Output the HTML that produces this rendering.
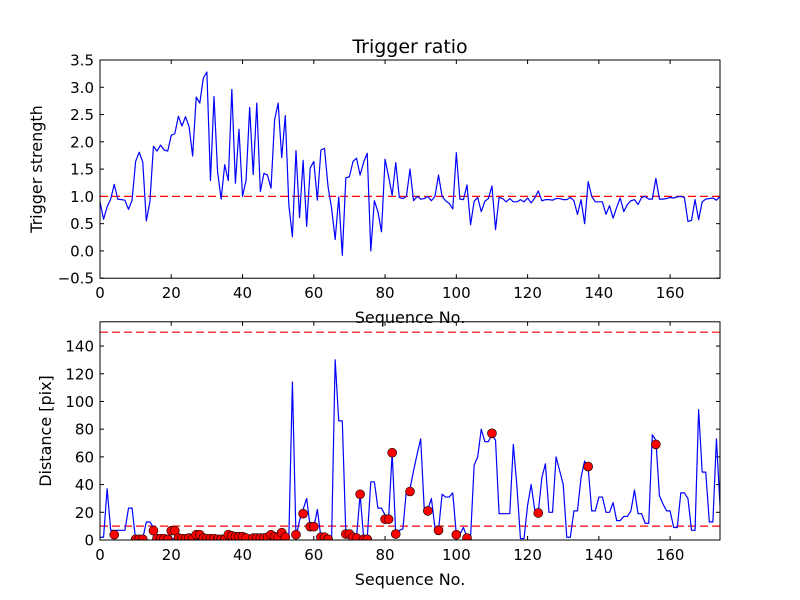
<!DOCTYPE html>
<html><head><meta charset="utf-8"><style>
body{margin:0;background:#fff}
svg{display:block}
text{font-family:"DejaVu Sans","Liberation Sans",sans-serif;fill:#000}
</style></head><body>
<svg id="fig" width="800" height="600" viewBox="0 0 800 600" xmlns="http://www.w3.org/2000/svg">
<rect width="800" height="600" fill="#fff"/>
</svg>
<script>
const xTicks=[0,20,40,60,80,100,120,140,160];
const topYTicks=[-0.5,0,0.5,1,1.5,2,2.5,3,3.5];
const topYLabels=["\u22120.5","0.0","0.5","1.0","1.5","2.0","2.5","3.0","3.5"];
const botYTicks=[0,20,40,60,80,100,120,140];
const triggerRatio=[0.9,0.58,0.81,0.95,1.22,0.95,0.94,0.93,0.76,0.93,1.64,1.81,1.63,0.55,0.9,1.92,1.83,1.94,1.85,1.83,2.12,2.15,2.47,2.29,2.46,2.28,1.74,2.82,2.71,3.17,3.28,1.29,2.83,1.45,0.95,1.58,1.29,2.96,1.24,2.23,1.0,1.3,2.63,1.4,2.71,1.09,1.42,1.39,1.15,2.4,2.71,1.71,2.48,0.84,0.26,1.84,0.61,1.66,0.45,1.52,1.64,0.93,1.85,1.88,1.18,0.78,0.21,0.99,-0.08,1.34,1.36,1.64,1.7,1.39,1.63,1.79,0.0,0.92,0.72,0.35,1.68,1.36,1.02,1.62,0.98,0.96,1.0,1.5,0.92,1.0,0.95,0.96,1.0,0.92,1.0,1.39,1.0,0.92,0.87,0.77,1.8,0.95,0.94,1.21,0.48,0.91,0.98,0.72,0.91,0.96,1.19,0.39,0.98,0.96,0.9,0.96,0.9,0.9,0.94,0.9,0.97,0.88,0.97,1.1,0.92,0.94,0.94,0.93,0.96,0.96,0.94,0.94,0.98,0.92,0.67,0.94,0.5,1.27,1.0,0.9,0.9,0.9,0.67,0.83,0.6,0.8,0.97,0.72,0.85,0.92,0.94,0.85,0.98,1.0,0.95,0.95,1.33,0.95,0.95,0.96,0.98,0.97,0.99,1.0,0.98,0.54,0.56,0.94,0.57,0.9,0.95,0.96,0.97,0.93,1.0];
const distance=[2,2,37,7,7,7,7,7,23,23,0,1,1,13,13,9,1,1,1,0,1,1,2,1,1,2,1,1,1,1,0,0,1,1,2,2,2,1,1,1,1,1,1,2,2,2,3,1,1,3,1,1,2,2,114,2,14,22,30,9,9,22,2,1,1,1,130,86,86,4,3,2,2,33,1,1,42,42,23,23,18,16,63,4,7,8,36,37,50,62,73,22,22,30,9,7,33,31,31,34,4,4,9,2,2,54,60,80,71,71,76,72,19,19,19,19,69,39,1,1,25,40,22,20,45,55,20,20,60,50,40,2,2,21,21,45,57,52,21,21,31,31,20,20,27,14,14,17,17,21,36,19,19,12,12,76,72,32,26,21,21,9,9,34,34,30,7,7,94,49,49,13,13,73,25];
const markerIdx=[4,10,11,12,15,16,17,18,19,20,21,22,23,24,25,26,27,28,29,30,31,32,33,34,35,36,37,38,39,40,41,43,44,45,46,47,48,49,50,51,52,55,57,59,60,62,63,64,69,70,71,72,73,74,75,80,81,82,83,87,92,95,100,103,110,123,137,156];
const markerVal=[3.8,0.5,0.5,0.5,6.7,1,1,1,0.5,6.7,6.7,1.4,1,1,1.4,1,3.8,3.8,1.4,1,1,1,0.5,0.5,0.5,3.8,3,2.4,2.4,2.4,1.4,1.4,1.4,1.4,1.4,2,3.8,2.4,2,5.3,2,3.8,19,9.6,9.6,2,2,0.5,4.3,4.3,2,1.4,33,0.5,0.5,15,15,63,4.3,35,21,7,3.8,1.4,77,19.5,53,69];

const NS="http://www.w3.org/2000/svg";
const fig=document.getElementById('fig');
function mk(tag,attrs,parent){const e=document.createElementNS(NS,tag);for(const k in attrs)e.setAttribute(k,attrs[k]);(parent||fig).appendChild(e);return e;}
const L=100,R=720,XMAX=174;
const sx=v=>L+(v/XMAX)*(R-L);
const A1={t:60,b:278.2,min:-0.5,max:3.5};
const A2={t:321.8,b:540,min:0,max:157.5};
const sy=(a,v)=>a.b-(v-a.min)/(a.max-a.min)*(a.b-a.t);

function axes(a,name,yTicks,yLabels){
  const g=mk('g',{});
  
  
  xTicks.forEach(v=>{
    const x=sx(v);
    mk('line',{x1:x,x2:x,y1:a.b,y2:a.b-4,stroke:'#000','stroke-width':1},g);
    mk('line',{x1:x,x2:x,y1:a.t,y2:a.t+4,stroke:'#000','stroke-width':1},g);
    const t=mk('text',{x:x,y:a.b+20,'text-anchor':'middle','font-size':15},g);
    
    
    t.textContent=v;
  });
  yTicks.forEach((v,i)=>{
    const y=sy(a,v);
    mk('line',{x1:L,x2:L+4,y1:y,y2:y,stroke:'#000','stroke-width':1},g);
    mk('line',{x1:R,x2:R-4,y1:y,y2:y,stroke:'#000','stroke-width':1},g);
    const t=mk('text',{x:L-6,y:y+5.5,'text-anchor':'end','font-size':15},g);
    
    
    t.textContent=yLabels?yLabels[i]:v;
  });
  return g;
}
function frame(a){
  const r=mk('rect',{x:L,y:a.t,width:R-L,height:a.b-a.t,fill:'none',stroke:'#000','stroke-width':1});
  
  
}
function hline(a,v,name){
  const y=sy(a,v);
  const l=mk('line',{x1:L,x2:R,y1:y,y2:y,stroke:'#ff0000','stroke-width':1.2,'stroke-dasharray':'8,4'});
  
  
}
function series(a,vals,name){
  const clip='clip-'+name;
  const cp=mk('clipPath',{id:clip});mk('rect',{x:L,y:a.t,width:R-L,height:a.b-a.t},cp);
  const d=vals.map((v,i)=>(i?'L':'M')+sx(i).toFixed(2)+','+sy(a,v).toFixed(2)).join(' ');
  const p=mk('path',{d:d,fill:'none',stroke:'#0000ff','stroke-width':1.2,'stroke-linejoin':'round','clip-path':'url(#'+clip+')'});
  
  
}
axes(A1,'top-axes',topYTicks,topYLabels);
hline(A1,1,'threshold-line-1');
series(A1,triggerRatio,'trigger-ratio-line');
frame(A1);
axes(A2,'bottom-axes',botYTicks,null);
hline(A2,10,'threshold-line-10');
hline(A2,150,'threshold-line-150');
series(A2,distance,'distance-line');
const mg=mk('g',{'clip-path':'url(#clip-distance-line)'});


markerIdx.forEach((ix,i)=>{
  const c=mk('circle',{cx:sx(ix),cy:sy(A2,markerVal[i]),r:4.5,fill:'#ff0000',stroke:'#000','stroke-width':0.6},mg);
  
  
});
frame(A2);
function label(txt,x,y,size,name,rot){
  const t=mk('text',{x:x,y:y,'text-anchor':'middle','font-size':size});
  if(rot)t.setAttribute('transform','rotate(-90 '+x+' '+y+')');
  
  
  t.textContent=txt;
}
label('Trigger ratio',410,53,19,'chart-title');
label('Sequence No.',410,323,16,'top-x-axis-title');
label('Trigger strength',42,169,16,'top-y-axis-title',true);
label('Sequence No.',410,585,16,'bottom-x-axis-title');
label('Distance [pix]',51,431,16,'bottom-y-axis-title',true);
</script>
</body></html>
